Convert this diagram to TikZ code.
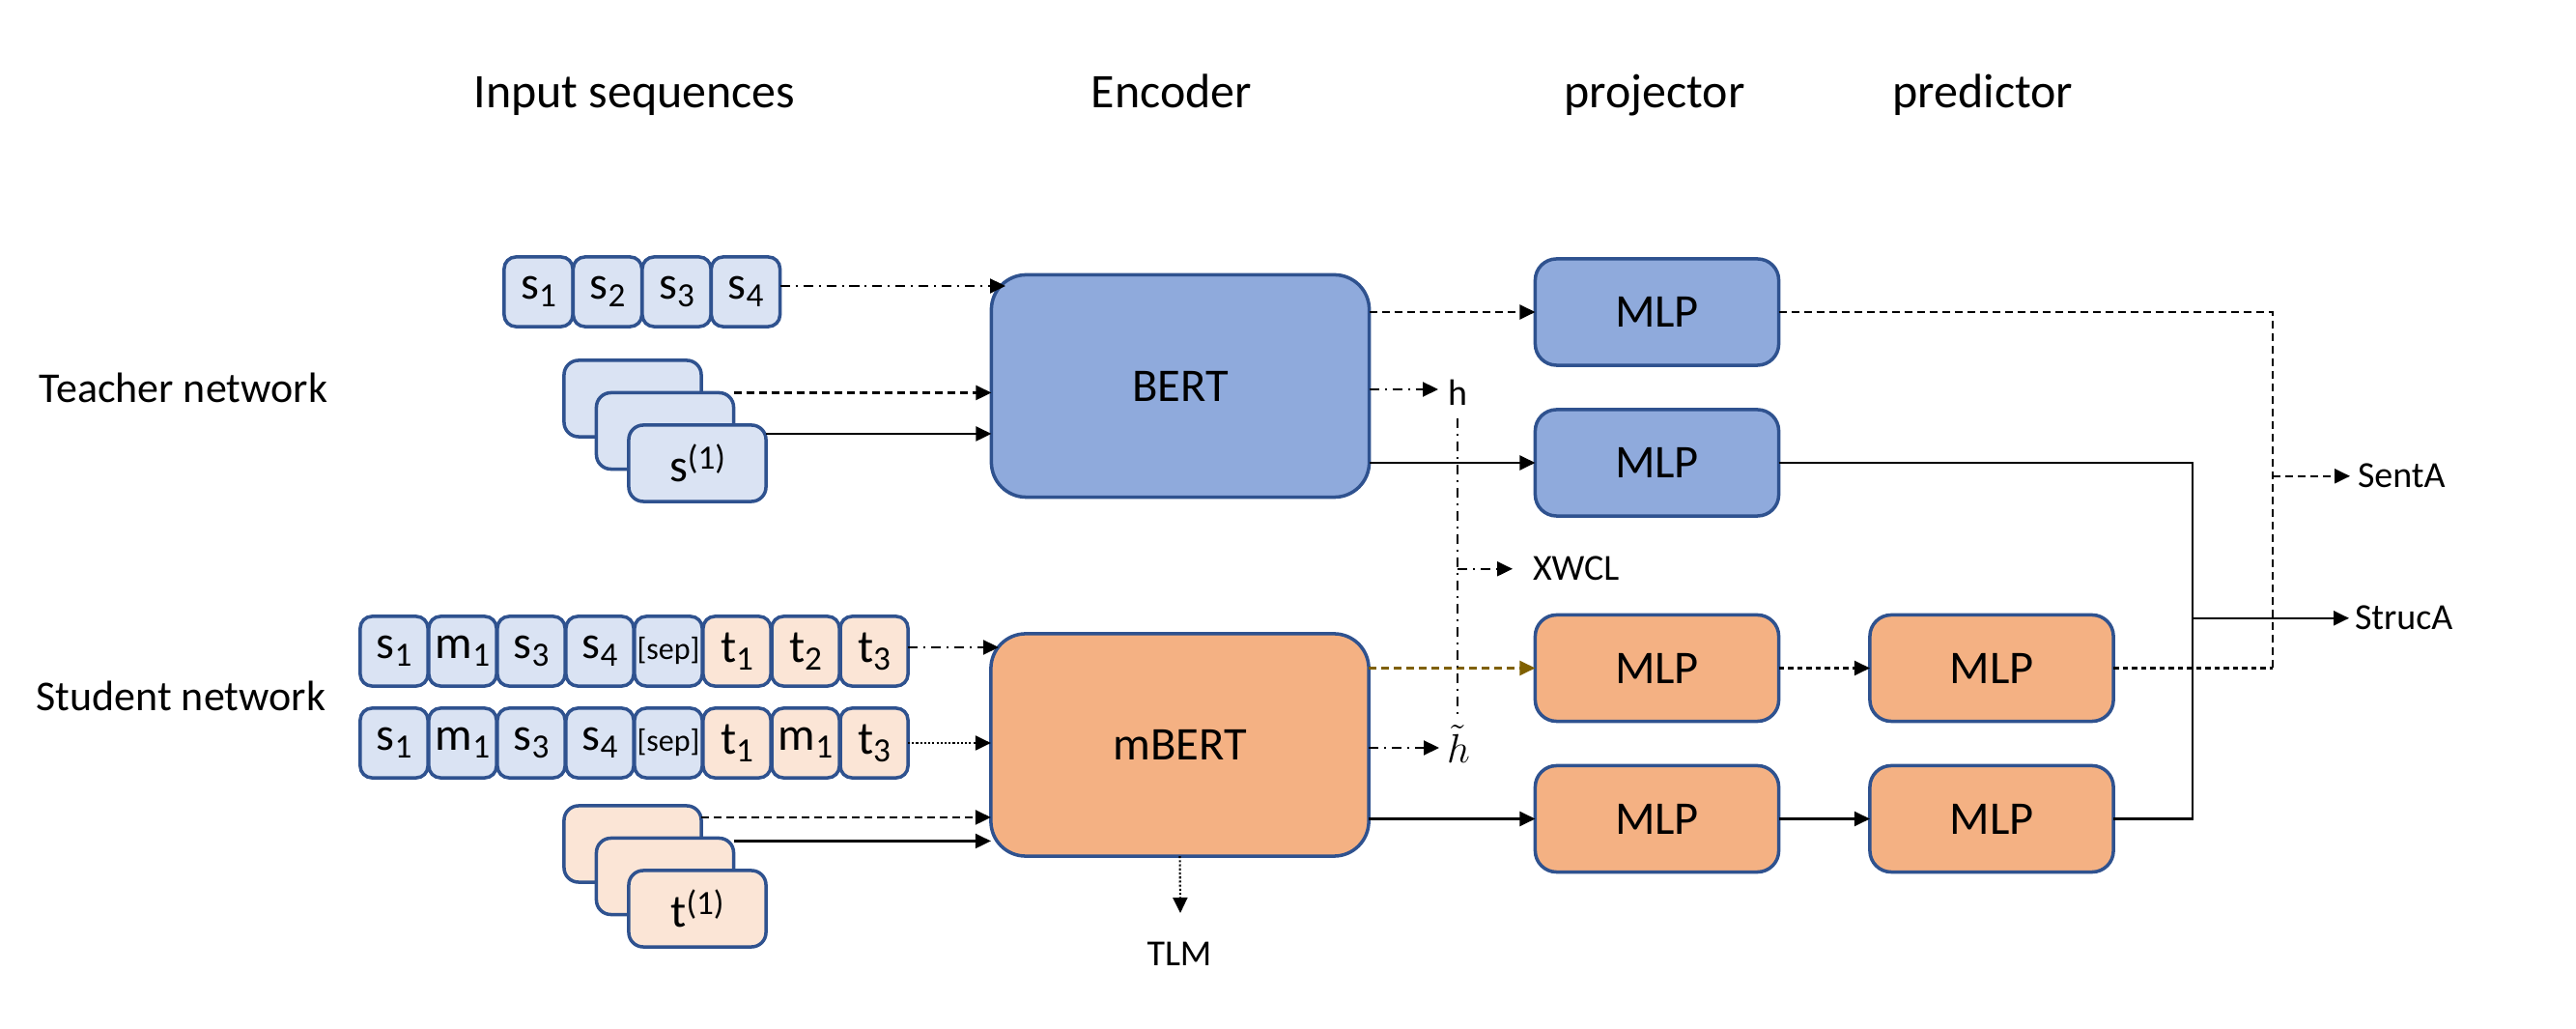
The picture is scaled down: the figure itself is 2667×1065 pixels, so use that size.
\documentclass[tikz,border=0pt]{standalone}
\usepackage{fontspec}
\setmainfont{Carlito}
\usetikzlibrary{arrows.meta,calc}
\definecolor{bord}{HTML}{2F528F}
\definecolor{tokB}{HTML}{DAE3F3}
\definecolor{tokO}{HTML}{FBE5D6}
\definecolor{boxB}{HTML}{8FAADC}
\definecolor{boxO}{HTML}{F4B183}
\definecolor{brownarr}{HTML}{7F6000}
\newcommand\fHead{\fontsize{14.2pt}{17pt}\selectfont}
\newcommand\fSide{\fontsize{12.5pt}{15pt}\selectfont}
\newcommand\fBox{\fontsize{13.8pt}{16pt}\selectfont}
\newcommand\fTok{\fontsize{13.7pt}{16pt}\selectfont}
\newcommand\fSmall{\fontsize{10.8pt}{13pt}\selectfont}
\newcommand\fSep{\fontsize{9.1pt}{10pt}\selectfont}
\newcommand\fMath{\fontsize{13pt}{15pt}\selectfont}
\newcommand\lowx[1]{\raisebox{-2.3pt}{\fontsize{10pt}{11pt}\selectfont #1}}
\newcommand\upx[1]{\raisebox{3.6pt}{\fontsize{10pt}{11pt}\selectfont #1}}
\begin{document}
\begin{tikzpicture}[x=0.01cm,y=-0.01cm,
  base/.style={draw=bord, line width=1pt, inner sep=0pt, outer sep=0pt},
  tok/.style={base, minimum width=0.70cm, minimum height=0.72cm, rounded corners=0.12cm, font=\fTok},
  tokb/.style={tok, fill=tokB},
  toko/.style={tok, fill=tokO},
  stk/.style={base, minimum width=1.42cm, minimum height=0.79cm, rounded corners=0.15cm, font=\fTok},
  enc/.style={base, minimum width=3.91cm, minimum height=2.30cm, rounded corners=0.36cm, font=\fBox},
  mlp/.style={base, minimum width=2.52cm, minimum height=1.10cm, rounded corners=0.22cm, font=\fBox},
  lbl/.style={inner sep=0pt, outer sep=0pt, font=\fSmall},
  conn/.style={line width=0.6pt},
  arr/.style={conn, -{Triangle[length=1.6mm, width=1.5mm]}},
  lnDD/.style={dash pattern=on 2.85pt off 1.7pt on 0.57pt off 1.7pt},
  lnDash/.style={dash pattern=on 2.3pt off 1.4pt},
  lnSq/.style={dash pattern=on 1.6pt off 1.1pt},
  lnDot/.style={dash pattern=on 0.6pt off 0.6pt},
]
\useasboundingbox (0,0) rectangle (2667,1065);

% headers
\node[font=\fHead, anchor=base] (hin) at (657,112) {Input sequences};
\node[font=\fHead, anchor=base] (henc) at (1213,112) {Encoder};
\node[font=\fHead, anchor=base] (hproj) at (1713,112) {projector};
\node[font=\fHead, anchor=base] (hpred) at (2053,112) {predictor};
\node[font=\fSide, anchor=base west, inner sep=0pt] (tnet) at (40,417) {Teacher network};
\node[font=\fSide, anchor=base west, inner sep=0pt] (snet) at (37,736) {Student network};

% teacher tokens
\node[tokb, minimum width=0.71cm] (ts1) at (557.5,302) {s\lowx{1}};
\node[tokb, minimum width=0.71cm] (ts2) at (629,302) {s\lowx{2}};
\node[tokb, minimum width=0.71cm] (ts3) at (700.5,302) {s\lowx{3}};
\node[tokb, minimum width=0.71cm] (ts4) at (772,302) {s\lowx{4}};

% teacher stack
\node[stk, fill=tokB] (tb) at (655,412.5) {};
\node[stk, fill=tokB] (tm) at (688.5,446) {};
\node[stk, fill=tokB] (tf) at (722,479.5) {s\upx{(1)}};

% student row 1
\node[tokb] (sa1) at (408,674) {s\lowx{1}};
\node[tokb] (sa2) at (479,674) {m\lowx{1}};
\node[tokb] (sa3) at (550,674) {s\lowx{3}};
\node[tokb] (sa4) at (621,674) {s\lowx{4}};
\node[tokb] (sa5) at (692,674) {\fSep [sep]};
\node[toko] (sa6) at (763,674) {t\lowx{1}};
\node[toko] (sa7) at (834,674) {t\lowx{2}};
\node[toko] (sa8) at (905,674) {t\lowx{3}};
% student row 2
\node[tokb] (sb1) at (408,769) {s\lowx{1}};
\node[tokb] (sb2) at (479,769) {m\lowx{1}};
\node[tokb] (sb3) at (550,769) {s\lowx{3}};
\node[tokb] (sb4) at (621,769) {s\lowx{4}};
\node[tokb] (sb5) at (692,769) {\fSep [sep]};
\node[toko] (sb6) at (763,769) {t\lowx{1}};
\node[toko] (sb7) at (834,769) {m\lowx{1}};
\node[toko] (sb8) at (905,769) {t\lowx{3}};

% student stack
\node[stk, fill=tokO] (sbk) at (655,873.5) {};
\node[stk, fill=tokO] (smd) at (688.5,907) {};
\node[stk, fill=tokO] (sft) at (722,940.5) {t\upx{(1)}};

% encoders
\node[enc, fill=boxB] (bert) at (1222,399.5) {BERT};
\node[enc, fill=boxO] (mbert) at (1221.5,771) {mBERT};

% MLPs
\node[mlp, fill=boxB] (tp1) at (1715.5,323) {MLP};
\node[mlp, fill=boxB] (tp2) at (1715.5,479) {MLP};
\node[mlp, fill=boxO] (sp1) at (1715.5,691.5) {MLP};
\node[mlp, fill=boxO] (sp2) at (1715.5,847.5) {MLP};
\node[mlp, fill=boxO] (pr1) at (2062,691.5) {MLP};
\node[mlp, fill=boxO] (pr2) at (2062,847.5) {MLP};

% small labels
\node[lbl, anchor=base] (h) at (1509,420) {h};
\node[lbl, anchor=base, font=\fMath] (ht) at (1510,790) {$\tilde{h}$};
\node[lbl, anchor=base west] (xwcl) at (1587,601) {XWCL};
\node[lbl, anchor=base west] (senta) at (2441,505) {SentA};
\node[lbl, anchor=base west] (struca) at (2438,652) {StrucA};
\node[lbl, anchor=base] (tlm) at (1221,1000) {TLM};

% coordinates
\coordinate (tin1) at (1041,296);
\coordinate (sin1) at (1034,670);
\coordinate (tso) at ($(tf.north east)+(0,9)$);
\coordinate (sso1) at ($(sbk.north east)+(0,12)$);
\coordinate (sso2) at ($(smd.north east)+(0,3)$);
\coordinate (hend) at (1489,403);
\coordinate (htend) at (1490,774);
\coordinate (tlmend) at (1222,945);
\coordinate (dv) at (2353,0);
\coordinate (sv) at (2270,0);

% teacher inputs
\draw[arr,lnDD] (ts4.east |- tin1) -- (tin1);
\draw[arr,lnDash] (tm.north east) -- (bert.west |- tm.north east);
\draw[arr] (tso) -- (bert.west |- tso);

% student inputs
\draw[arr,lnDD] (sa8.east |- sin1) -- (sin1);
\draw[arr,lnDot] (sb8.east) -- (mbert.west |- sb8.east);
\draw[arr,lnDash] (sso1) -- (mbert.west |- sso1);
\draw[arr] (sso2) -- (mbert.west |- sso2);

% encoder outputs
\draw[arr,lnDash] (bert.east |- tp1.west) -- (tp1.west);
\draw[arr] (bert.east |- tp2.west) -- (tp2.west);
\draw[arr,lnDD] (bert.east |- hend) -- (hend);
\draw[arr,lnDash,brownarr,-{Triangle[length=1.6mm, width=1.5mm, fill=brownarr]}] (mbert.east |- sp1.west) -- (sp1.west);
\draw[arr] (mbert.east |- sp2.west) -- (sp2.west);
\draw[arr,lnDD] (mbert.east |- htend) -- (htend);
\draw[arr,lnDot] (mbert.south) -- (tlmend);

% h line and XWCL
\draw[conn,lnDD] ($(h.south)+(0,13)$) -- ($(h.south |- ht.north)+(0,-10)$);
\draw[arr,lnDD] (h.south |- xwcl.west) -- ($(xwcl.west)+(-21,0)$);

% projector -> predictor
\draw[arr,lnSq] (sp1.east) -- (pr1.west);
\draw[arr] (sp2.east) -- (pr2.west);

% right wiring
\draw[conn,lnDash] (tp1.east) -- (tp1.east -| dv) -- (pr1.east -| dv);
\draw[conn,lnSq] (pr1.east) -- (pr1.east -| dv);
\draw[arr,lnDash] (senta.west -| dv) -- ($(senta.west)+(-8,0)$);
\draw[conn] (tp2.east) -- (tp2.east -| sv) -- (pr2.east -| sv) -- (pr2.east);
\draw[arr] (struca.west -| sv) -- ($(struca.west)+(-6,0)$);
\end{tikzpicture}
\end{document}
